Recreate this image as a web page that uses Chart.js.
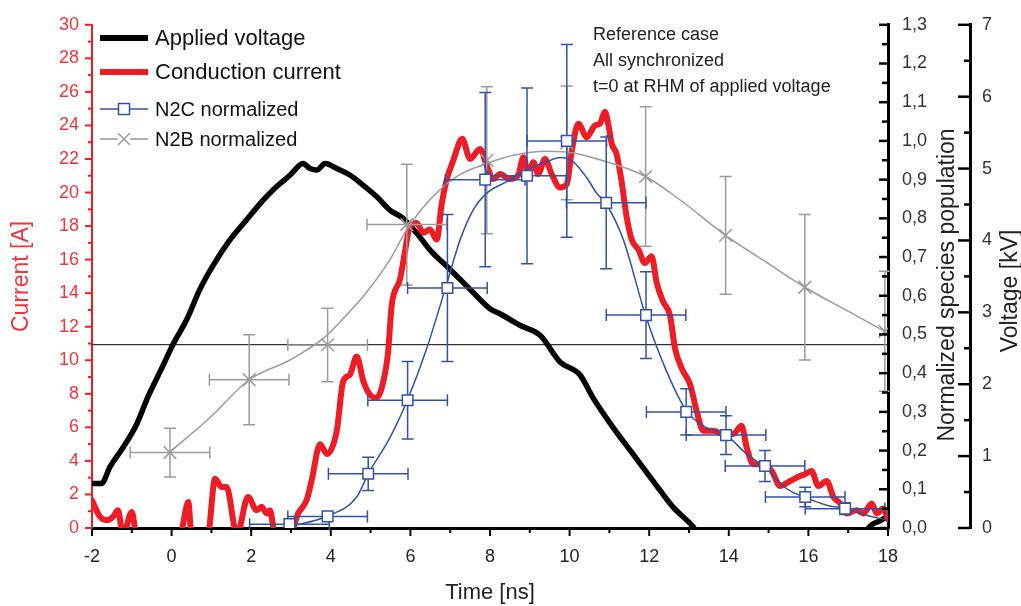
<!DOCTYPE html>
<html>
<head>
<meta charset="utf-8">
<script src="https://cdn.jsdelivr.net/npm/chart.js@4.4.0/dist/chart.umd.min.js"></script>
<style>
  html, body { margin: 0; padding: 0; background: #fff; }
  #chart { display: block; }
</style>
</head>
<body>
<canvas id="chart" width="1021" height="606"></canvas>
<script>
// tick labels
const timeTicks = [-2, 0, 2, 4, 6, 8, 10, 12, 14, 16, 18];
const currentTicks = [0, 2, 4, 6, 8, 10, 12, 14, 16, 18, 20, 22, 24, 26, 28, 30];
const normTicks = [0, 0.1, 0.2, 0.3, 0.4, 0.5, 0.6, 0.7, 0.8, 0.9, 1.0, 1.1, 1.2, 1.3];
const voltTicks = [0, 1, 2, 3, 4, 5, 6, 7];

// applied voltage [kV]
const voltageTime = [-2, -1.76, -1.55, -1.22, -0.88, -0.59, -0.25, 0.04, 0.38, 0.71, 1.04, 1.47, 1.89, 2.30, 2.64, 2.98, 3.30, 3.48, 3.65, 3.86, 4.15, 4.48, 4.81, 5.15, 5.49, 5.81, 6.16, 6.49, 6.99, 7.50, 8.00, 8.25, 8.75, 9.26, 9.76, 10.26, 10.59, 11.09, 11.59, 12.09, 12.60, 13.10, 13.25, 17.3, 17.6, 17.8, 18.0];
const voltageKV = [0.62, 0.62, 0.85, 1.12, 1.44, 1.83, 2.22, 2.56, 2.90, 3.32, 3.65, 4.01, 4.29, 4.56, 4.75, 4.91, 5.07, 5.00, 4.98, 5.07, 5.00, 4.91, 4.77, 4.61, 4.42, 4.31, 4.10, 3.87, 3.60, 3.32, 3.05, 2.98, 2.82, 2.68, 2.31, 2.13, 1.81, 1.40, 1.03, 0.66, 0.29, 0.02, -0.1, -0.1, 0.05, 0.10, 0.17];
const rhmLevel = 2.55;

// conduction current [A]
const currentTime = [-2, -1.80, -1.63, -1.47, -1.35, -1.22, -1.00, -0.88, 0.21, 0.42,
  0.50, 0.91, 1.09, 1.26, 1.38, 1.64, 1.92, 2.14, 2.26, 2.39,
  2.47, 2.60, 2.97, 3.18, 3.39, 3.52, 3.73, 3.90, 4.15, 4.31,
  4.48, 4.65, 4.82, 4.98, 5.15, 5.32, 5.44, 5.53, 5.74, 5.86,
  5.99, 6.16, 6.32, 6.49, 6.66, 6.79, 6.91, 7.08, 7.30, 7.50,
  7.75, 7.92, 8.08, 8.25, 8.50, 8.71, 8.84, 8.96, 9.09, 9.21,
  9.38, 9.55, 9.76, 9.93, 10.05, 10.22, 10.43, 10.64, 10.76, 10.89,
  10.97, 11.06, 11.18, 11.31, 11.43, 11.56, 11.73, 11.89, 12.06, 12.19,
  12.35, 12.52, 12.65, 12.82, 13.03, 13.19, 13.36, 13.61, 13.86, 14.11,
  14.32, 14.45, 14.62, 14.87, 15.08, 15.29, 15.54, 15.79, 15.91, 16.08,
  16.25, 16.46, 16.63, 16.80, 16.96, 17.21, 17.38, 17.59, 17.72, 17.88, 18.0];
const currentA = [1.65, 0.67, 0.47, 0.67, 1.06, -0.4, 0.96, -0.4, -0.4, 1.55,
  -0.4, -0.4, 2.93, 2.44, 2.44, -0.4, 1.85, 1.06, 1.26, 0.87,
  1.06, -0.4, -0.4, 0.87, 1.65, 2.84, 5.0, 4.41, 5.79, 8.74,
  9.14, 10.22, 8.74, 7.96, 7.76, 8.74, 10.51, 13.27, 14.84, 16.42,
  18.0, 18.19, 17.6, 17.8, 17.2, 19.37, 20.75, 21.93, 23.2, 22.0,
  22.6, 21.6, 20.8, 21.1, 20.8, 21.05, 22.1, 21.1, 21.8, 21.1,
  22.0, 21.1, 20.3, 20.5, 22.4, 24.1, 23.3, 24.0, 24.1, 24.8,
  24.1, 22.9, 22.3, 20.6, 18.6, 17.2, 16.6, 15.8, 16.2, 14.6,
  13.5, 12.7, 10.7, 9.5, 8.55, 7.0, 5.8, 5.8, 5.6, 5.6,
  6.1, 4.8, 3.8, 3.8, 3.4, 2.5, 2.8, 3.1, 3.2, 3.4,
  2.5, 2.8, 1.85, 1.46, 0.87, 1.06, 0.87, 1.46, 0.87, 1.16, 0.5];

// N2C normalized (measured points + fit)
const n2cTime = [2.96, 3.92, 4.94, 5.93, 6.93, 7.88, 8.93, 9.93, 10.92, 11.92, 12.93, 13.93, 14.91, 15.92, 16.92];
const n2cValue = [0.01, 0.03, 0.14, 0.33, 0.62, 0.90, 0.91, 1.0, 0.84, 0.55, 0.30, 0.24, 0.16, 0.08, 0.05];
const n2cErrX = [1, 1, 1, 1, 1, 1, 1, 1, 1, 1, 1, 1, 1, 1, 1];
const n2cErrY = [0, 0, 0.043, 0.10, 0.19, 0.225, 0.227, 0.249, 0.17, 0.112, 0.06, 0.05, 0.04, 0.025, 0.015];
const n2cFitTime = [2.93, 3.92, 4.65, 4.94, 5.49, 5.93, 6.41, 6.91, 7.25, 7.58, 7.92, 8.42, 8.92, 9.42, 9.76, 10.09, 10.43, 10.68, 10.91, 11.35, 11.91, 12.44, 12.94, 13.44, 13.92, 14.45, 14.91, 15.45, 15.91, 16.46, 16.92, 17.46, 18.0];
const n2cFitValue = [0.003, 0.031, 0.08, 0.14, 0.234, 0.332, 0.464, 0.63, 0.745, 0.822, 0.865, 0.895, 0.925, 0.946, 0.957, 0.946, 0.905, 0.865, 0.839, 0.745, 0.549, 0.404, 0.302, 0.259, 0.241, 0.191, 0.157, 0.102, 0.079, 0.059, 0.050, 0.033, 0.02];

// N2B normalized (measured points + fit)
const n2bTime = [-0.04, 1.95, 3.92, 5.91, 7.92, 9.93, 11.91, 13.92, 15.91, 17.92];
const n2bValue = [0.195, 0.383, 0.473, 0.784, 0.95, 0.995, 0.908, 0.756, 0.622, 0.508];
const n2bErrX = [1, 1, 1, 1, 0, 0, 0, 0, 0, 0];
const n2bErrY = [0.063, 0.116, 0.095, 0.156, 0.19, 0.147, 0.18, 0.152, 0.188, 0.155];
const n2bFitTime = [-0.06, 0.96, 1.95, 2.97, 3.81, 4.31, 4.90, 5.49, 5.91, 6.49, 7.16, 7.92, 8.59, 9.42, 10.09, 10.93, 11.91, 12.77, 13.92, 14.95, 15.91, 16.96, 17.92];
const n2bFitValue = [0.195, 0.285, 0.383, 0.434, 0.49, 0.541, 0.609, 0.694, 0.771, 0.848, 0.908, 0.942, 0.963, 0.973, 0.969, 0.946, 0.908, 0.848, 0.756, 0.686, 0.622, 0.562, 0.508];

const legendLabels = ['Applied voltage', 'Conduction current', 'N2C normalized', 'N2B normalized'];
const noteLines = ['Reference case', 'All synchronized', 't=0 at RHM of applied voltage'];

const FONT = "'Liberation Sans', Arial, sans-serif";
const RED = '#ee1c25';
const RED_TEXT = '#f0353b';
const BLUE = '#3352a6';
const GRAY = '#9b9b9b';
const TEXT = '#222';

const pts = (xs, ys) => xs.map((x, i) => ({ x: x, y: ys[i] }));
const setTicks = (list) => (s) => { s.ticks = list.map(v => ({ value: v })); };

// error bars drawn just before the marker dataset
const errorBars = {
  id: 'errorBars',
  beforeDatasetDraw(chart, args) {
    const ds = chart.data.datasets[args.index];
    if (!ds.errY) return;
    const ctx = chart.ctx;
    const xs = chart.scales.x;
    const ys = chart.scales[ds.yAxisID];
    ctx.save();
    ctx.strokeStyle = ds.errColor;
    ctx.lineWidth = 1.5;
    ds.data.forEach((p, i) => {
      const cx = xs.getPixelForValue(p.x);
      const cy = ys.getPixelForValue(p.y);
      const ex = ds.errX[i], ey = ds.errY[i];
      ctx.beginPath();
      if (ey > 0) {
        const y1 = ys.getPixelForValue(p.y + ey);
        const y2 = ys.getPixelForValue(Math.max(p.y - ey, 0));
        ctx.moveTo(cx, y1); ctx.lineTo(cx, y2);
        ctx.moveTo(cx - 6, y1); ctx.lineTo(cx + 6, y1);
        ctx.moveTo(cx - 6, y2); ctx.lineTo(cx + 6, y2);
      }
      if (ex > 0) {
        const x1 = xs.getPixelForValue(p.x - ex);
        const x2 = xs.getPixelForValue(p.x + ex);
        ctx.moveTo(x1, cy); ctx.lineTo(x2, cy);
        ctx.moveTo(x1, cy - 6); ctx.lineTo(x1, cy + 6);
        ctx.moveTo(x2, cy - 6); ctx.lineTo(x2, cy + 6);
      }
      ctx.stroke();
    });
    ctx.restore();
  }
};

// tick marks, right-side titles, legend and notes
const decor = {
  id: 'decor',
  afterDraw(chart) {
    const ctx = chart.ctx;
    const { x, yCur, yNorm, yVolt } = chart.scales;
    const area = chart.chartArea;
    ctx.save();

    const marks = (list, fn) => {
      list.forEach((v, i) => {
        fn(v, true);
        if (i < list.length - 1) fn((v + list[i + 1]) / 2, false);
      });
    };

    // x axis, outward
    ctx.strokeStyle = '#000';
    ctx.lineWidth = 2;
    marks(timeTicks, (v, major) => {
      const px = x.getPixelForValue(v);
      ctx.beginPath();
      ctx.moveTo(px, area.bottom);
      ctx.lineTo(px, area.bottom + (major ? 8 : 5));
      ctx.stroke();
    });
    // current axis, outward
    ctx.strokeStyle = RED;
    marks(currentTicks, (v, major) => {
      const py = yCur.getPixelForValue(v);
      ctx.beginPath();
      ctx.moveTo(area.left, py);
      ctx.lineTo(area.left - (major ? 7 : 4), py);
      ctx.stroke();
    });
    // normalized axis, inward
    ctx.strokeStyle = '#000';
    ctx.lineWidth = 2.5;
    marks(normTicks, (v, major) => {
      const py = yNorm.getPixelForValue(v);
      ctx.beginPath();
      ctx.moveTo(yNorm.left, py);
      ctx.lineTo(yNorm.left - (major ? 9 : 6), py);
      ctx.stroke();
    });
    // voltage axis, inward
    marks(voltTicks, (v, major) => {
      const py = yVolt.getPixelForValue(v);
      ctx.beginPath();
      ctx.moveTo(yVolt.left, py);
      ctx.lineTo(yVolt.left - (major ? 12 : 6), py);
      ctx.stroke();
    });

    // right titles, read bottom to top
    ctx.fillStyle = TEXT;
    ctx.font = '23px ' + FONT;
    ctx.textAlign = 'center';
    ctx.textBaseline = 'middle';
    [['Normalized species population', 948, 285], ['Voltage [kV]', 1011, 291]].forEach(([t, tx, ty]) => {
      ctx.save();
      ctx.translate(tx, ty);
      ctx.rotate(-Math.PI / 2);
      ctx.fillText(t, 0, 0);
      ctx.restore();
    });

    // legend
    const lx1 = 100, lx2 = 148, mid = 124;
    ctx.textAlign = 'left';
    ctx.lineCap = 'butt';
    const rows = [
      { y: 38, size: 22, draw: () => { ctx.strokeStyle = '#000'; ctx.lineWidth = 6; ctx.beginPath(); ctx.moveTo(lx1, 38); ctx.lineTo(lx2, 38); ctx.stroke(); } },
      { y: 72, size: 22, draw: () => { ctx.strokeStyle = RED; ctx.lineWidth = 6; ctx.beginPath(); ctx.moveTo(lx1, 72); ctx.lineTo(lx2, 72); ctx.stroke(); } },
      { y: 109, size: 20, draw: () => {
        ctx.strokeStyle = BLUE; ctx.lineWidth = 1.5;
        ctx.beginPath(); ctx.moveTo(lx1, 109); ctx.lineTo(lx2, 109); ctx.stroke();
        ctx.fillStyle = '#fff'; ctx.fillRect(mid - 5.5, 109 - 5.5, 11, 11); ctx.strokeRect(mid - 5.5, 109 - 5.5, 11, 11);
      } },
      { y: 139, size: 20, draw: () => {
        ctx.strokeStyle = GRAY; ctx.lineWidth = 1.5;
        ctx.beginPath(); ctx.moveTo(lx1, 139); ctx.lineTo(mid - 6, 139); ctx.moveTo(mid + 6, 139); ctx.lineTo(lx2, 139);
        ctx.moveTo(mid - 6, 133); ctx.lineTo(mid + 6, 145); ctx.moveTo(mid + 6, 133); ctx.lineTo(mid - 6, 145); ctx.stroke();
      } }
    ];
    rows.forEach((r, i) => {
      r.draw();
      ctx.fillStyle = '#111';
      ctx.font = r.size + 'px ' + FONT;
      ctx.fillText(legendLabels[i], 155, r.y + 1);
    });

    // notes
    ctx.fillStyle = TEXT;
    ctx.font = '18px ' + FONT;
    noteLines.forEach((t, i) => ctx.fillText(t, 593, 35 + i * 26));

    ctx.restore();
  }
};

const ctx = document.getElementById('chart').getContext('2d');
new Chart(ctx, {
  type: 'line',
  data: {
    datasets: [
      {
        label: 'N2C normalized', data: pts(n2cTime, n2cValue), yAxisID: 'yNorm', showLine: false,
        pointStyle: 'rect', pointRadius: 7.5, pointBackgroundColor: '#fff', pointBorderColor: BLUE, pointBorderWidth: 1.5,
        errX: n2cErrX, errY: n2cErrY, errColor: BLUE, order: 0
      },
      {
        label: 'N2C fit', data: pts(n2cFitTime, n2cFitValue), yAxisID: 'yNorm',
        borderColor: BLUE, borderWidth: 1.5, pointRadius: 0, cubicInterpolationMode: 'monotone', order: 1
      },
      {
        label: 'N2B normalized', data: pts(n2bTime, n2bValue), yAxisID: 'yNorm', showLine: false,
        pointStyle: 'crossRot', pointRadius: 9, pointBorderColor: GRAY, pointBorderWidth: 1.5,
        errX: n2bErrX, errY: n2bErrY, errColor: GRAY, order: 2
      },
      {
        label: 'N2B fit', data: pts(n2bFitTime, n2bFitValue), yAxisID: 'yNorm',
        borderColor: GRAY, borderWidth: 1.5, pointRadius: 0, cubicInterpolationMode: 'monotone', order: 3
      },
      {
        label: 'Conduction current', data: pts(currentTime, currentA), yAxisID: 'yCur',
        borderColor: RED, borderWidth: 6, pointRadius: 0, cubicInterpolationMode: 'monotone',
        borderJoinStyle: 'round', borderCapStyle: 'round', clip: 0, order: 4
      },
      {
        label: 'Applied voltage', data: pts(voltageTime, voltageKV), yAxisID: 'yVolt',
        borderColor: '#000', borderWidth: 5.5, pointRadius: 0, cubicInterpolationMode: 'monotone',
        borderJoinStyle: 'round', borderCapStyle: 'round', clip: 0, order: 5
      },
      {
        label: 'RHM', data: pts([-2, 18], [rhmLevel, rhmLevel]), yAxisID: 'yVolt',
        borderColor: '#000', borderWidth: 1, pointRadius: 0, order: 6
      }
    ]
  },
  options: {
    responsive: false,
    animation: false,
    layout: { padding: { top: 20, left: 0, right: 0, bottom: 0 } },
    plugins: { legend: { display: false }, tooltip: { enabled: false } },
    scales: {
      x: {
        type: 'linear', min: -2, max: 18,
        afterBuildTicks: setTicks(timeTicks),
        afterFit: (s) => { s.height = 78; },
        ticks: { color: TEXT, font: { size: 18, family: FONT }, padding: 18, maxRotation: 0, autoSkip: false, callback: (v) => String(v) },
        grid: { drawOnChartArea: false, drawTicks: false },
        border: { color: '#000', width: 3 },
        title: { display: true, text: 'Time [ns]', color: TEXT, font: { size: 22, family: FONT }, padding: 0 }
      },
      yCur: {
        type: 'linear', position: 'left', min: 0, max: 30,
        afterBuildTicks: setTicks(currentTicks),
        afterFit: (s) => { s.width = 92; },
        ticks: { color: RED_TEXT, font: { size: 18, family: FONT }, padding: 13 },
        grid: { drawOnChartArea: false, drawTicks: false },
        border: { color: RED, width: 2 },
        title: { display: true, text: 'Current [A]', color: RED_TEXT, font: { size: 23, family: FONT }, padding: { top: 8, bottom: 0 } }
      },
      yNorm: {
        type: 'linear', position: 'right', min: 0, max: 1.3,
        afterBuildTicks: setTicks(normTicks),
        afterFit: (s) => { s.width = 82; },
        ticks: { color: '#333', font: { size: 18, family: FONT }, padding: 14, callback: (v) => Number(v).toFixed(1).replace('.', ',') },
        grid: { drawOnChartArea: false, drawTicks: false },
        border: { color: '#000', width: 3 }
      },
      yVolt: {
        type: 'linear', position: 'right', min: 0, max: 7,
        afterBuildTicks: setTicks(voltTicks),
        afterFit: (s) => { s.width = 51; },
        ticks: { color: '#333', font: { size: 18, family: FONT }, padding: 12 },
        grid: { drawOnChartArea: false, drawTicks: false },
        border: { color: '#000', width: 3 }
      }
    }
  },
  plugins: [errorBars, decor]
});
</script>
</body>
</html>
